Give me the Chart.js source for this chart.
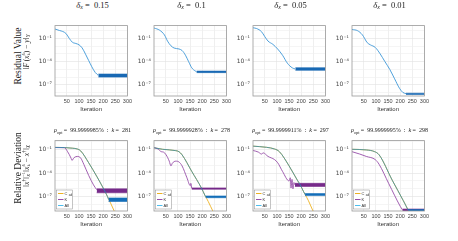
<!DOCTYPE html>
<html>
<head>
<meta charset="utf-8">
<script src="https://cdn.jsdelivr.net/npm/chart.js@4.4.1/dist/chart.umd.min.js"></script>
<style>
  body { margin: 0; background: #fff; width: 458px; height: 241px; position: relative; overflow: hidden;
         font-family: 'Liberation Serif', 'DejaVu Serif', serif; color: #222; }
  canvas { position: absolute; }
  .t { position: absolute; white-space: nowrap; transform: translate(-50%, -50%); line-height: 1; }
  .rot { position: absolute; white-space: nowrap; transform: translate(-50%, -50%) rotate(-90deg); line-height: 1; }
  .sb { font-size: 0.7em; vertical-align: -0.3em; }
  .sp { font-size: 0.7em; vertical-align: 0.45em; }
  .ss { display: inline-block; vertical-align: middle; font-size: 0.6em; line-height: 1; text-align: left; }
  .ss span { display: block; }
</style>
</head>
<body>
<script>
// ---- data (values are log10 of the plotted quantity) ----
const iterTicks = [50, 100, 150, 200, 250, 300];
const labelExps = [-1, -4, -7];
const topRange = [-8.44, 0.66];
const botRange = [-8.8, 0.1];

const deltaLabels = ['0.15', '0.1', '0.05', '0.01'];
const rhoOpt = ['99.9999985', '99.9999928', '99.9999911', '99.9999995'];
const kOpt = [281, 278, 297, 298];

// residual ||F(x_k) - y||, [iteration, log10]
const res015 = [[1, 0.22], [20, 0.02], [33, -0.1], [47, -0.38], [60, -1.0], [73, -1.5], [87, -1.65], [100, -1.82],
  [113, -2.22], [127, -3.03], [140, -3.85], [153, -4.66], [167, -5.39], [180, -5.78]];
const res01 = [[1, 0.35], [24, 0.07], [44, -0.54], [57, -1.35], [71, -1.95], [84, -2.24], [104, -2.36], [117, -2.56],
  [131, -3.17], [144, -4.0], [157, -4.8], [171, -5.2], [177, -5.3]];
const res005 = [[1, 0.38], [16, 0.28], [36, -0.12], [49, -0.73], [63, -1.34], [83, -1.76], [103, -2.37], [123, -3.17],
  [143, -4.2], [163, -4.8], [176, -4.95]];
const res001 = [[1, 0.16], [24, 0.0], [44, -0.54], [64, -1.55], [77, -1.83], [97, -2.16], [117, -2.98], [137, -4.0],
  [157, -5.0], [177, -6.22], [197, -7.44], [211, -7.98], [224, -8.14]];
// oscillation band once stagnated: [from, to, low, high]
const resBand = [[180, 300, -6.0, -5.6], [177, 300, -5.42, -5.22], [176, 300, -5.12, -4.78], [224, 300, -8.25, -8.08]];

// relative deviation, C_ad
const cad015 = [[1, -0.76], [40, -0.78], [73, -0.86], [93, -0.96], [107, -1.2], [140, -2.7], [173, -4.4], [200, -5.9],
  [218, -7.0], [232, -7.9], [250, -9.1]];
const cad01 = [[1, -0.8], [37, -1.0], [91, -1.17], [104, -1.3], [117, -1.7], [157, -3.8], [197, -5.9], [211, -6.8],
  [225, -7.6], [244, -8.8], [250, -9.1]];
const cad005 = [[1, -0.6], [57, -0.75], [90, -0.96], [110, -1.3], [150, -3.1], [184, -4.9], [196, -5.5], [209, -6.3],
  [216, -6.7], [230, -7.5], [249, -8.8], [255, -9.1]];
const cad001 = [[1, -1.0], [60, -1.08], [93, -1.28], [113, -1.7], [167, -4.9], [213, -7.5], [233, -8.7], [240, -9.2]];

// relative deviation, K
const k015 = [[1, -0.78], [40, -0.8], [53, -1.3], [67, -2.1], [71, -2.4], [80, -2.05], [93, -1.9], [107, -2.1],
  [120, -2.9], [140, -4.3], [160, -5.5], [173, -6.1]];
const k01 = [[1, -0.8], [17, -0.95], [31, -1.3], [40, -1.35], [51, -1.7], [64, -2.5], [71, -3.1], [77, -2.75],
  [91, -2.5], [104, -2.6], [117, -3.1], [137, -4.6], [151, -5.6], [153, -5.3], [157, -5.95]];
const k005 = [[1, -1.15], [23, -1.35], [36, -1.6], [43, -1.45], [63, -1.9], [90, -2.3], [103, -2.7], [123, -3.8],
  [150, -5.0], [155, -4.6], [158, -5.9], [162, -4.8], [166, -6.0], [170, -5.2], [174, -5.5]];
const k001 = [[1, -1.3], [33, -1.6], [60, -1.9], [97, -2.3], [113, -2.9], [153, -5.35], [200, -8.2], [209, -8.65]];

// relative deviation, All
const all015 = [[1, -0.76], [40, -0.78], [73, -0.86], [93, -0.96], [107, -1.2], [140, -2.7], [173, -4.4], [200, -5.9],
  [218, -7.0], [222, -7.35]];
const all01 = [[1, -0.8], [37, -1.0], [91, -1.17], [104, -1.3], [117, -1.7], [157, -3.8], [197, -5.9], [211, -6.8],
  [214, -7.0]];
const all005 = [[1, -0.6], [57, -0.75], [90, -0.96], [110, -1.3], [150, -3.1], [184, -4.9], [196, -5.5], [209, -6.3],
  [216, -6.72]];
const all001 = [[1, -1.0], [60, -1.08], [93, -1.28], [113, -1.7], [167, -4.9], [213, -7.5], [233, -8.7]];

const kBand = [[173, 300, -6.5, -6.0], [157, 300, -6.05, -5.88], [174, 300, -5.7, -5.3], [209, 300, -8.8, -8.55]];
const allBand = [[222, 300, -7.6, -7.15], [214, 300, -7.12, -6.9], [216, 300, -6.85, -6.6], [233, 300, -8.8, -8.62]];

const resSeries = [res015, res01, res005, res001];
const cadSeries = [cad015, cad01, cad005, cad001];
const kSeries = [k015, k01, k005, k001];
const allSeries = [all015, all01, all005, all001];

// ---- layout ----
const colLeft = [55, 154, 253, 352];
const rowTop = [22, 137];
const PW = 75, PH = 74, YW = 26, XH = 17, PADT = 3, PADR = 4;

const toXY = (pts) => pts.map(([x, e]) => ({ x, y: 10 ** e }));
const supMap = { '-': '⁻', '1': '¹', '4': '⁴', '7': '⁷' };
const sup = (e) => String(e).split('').map(c => supMap[c]).join('');

function lineDs(pts, color, order, key, keyColor) {
  return { data: toXY(pts), borderColor: color, borderWidth: 0.9, fill: false, order, key, keyColor };
}
function bandDs(b, color, order) {
  const [from, to, lo, hi] = b;
  return [
    { data: [{ x: from, y: 10 ** hi }, { x: to, y: 10 ** hi }], borderColor: color, borderWidth: 0.6, fill: false, order },
    { data: [{ x: from, y: 10 ** lo }, { x: to, y: 10 ** lo }], borderColor: color, borderWidth: 0.6,
      fill: '-1', backgroundColor: color, order },
  ];
}

const boxPlugin = {
  id: 'box',
  afterDraw(c) {
    const { ctx, chartArea: a } = c;
    ctx.save();
    ctx.strokeStyle = '#9a9a9a';
    ctx.lineWidth = 0.8;
    ctx.strokeRect(a.left, a.top, a.right - a.left, a.bottom - a.top);
    ctx.restore();
  }
};

const keyPlugin = {
  id: 'key',
  afterDraw(c) {
    const items = c.data.datasets.filter(d => d.key);
    if (!items.length) return;
    const { ctx, chartArea: a } = c;
    const x = a.left + 1.5, y = a.bottom - 21, w = 16, h = 19;
    ctx.save();
    ctx.fillStyle = '#fff';
    ctx.fillRect(x, y, w, h);
    ctx.strokeStyle = '#8a8a8a';
    ctx.lineWidth = 0.5;
    ctx.strokeRect(x, y, w, h);
    items.forEach((d, i) => {
      const ly = y + 3.5 + i * 6;
      ctx.strokeStyle = d.keyColor;
      ctx.lineWidth = 1;
      ctx.beginPath();
      ctx.moveTo(x + 1.5, ly);
      ctx.lineTo(x + 7, ly);
      ctx.stroke();
      ctx.fillStyle = '#333';
      ctx.textBaseline = 'middle';
      ctx.font = '4px "Liberation Sans"';
      const [main, sub] = d.key.split('_');
      ctx.fillText(main, x + 8, ly);
      if (sub) {
        ctx.font = '3px "Liberation Sans"';
        ctx.fillText(sub, x + 8 + ctx.measureText(main).width + 2.2, ly + 1.2);
      }
    });
    ctx.restore();
  }
};

function makeChart(left, top, datasets, range) {
  const cv = document.createElement('canvas');
  cv.width = YW + PW + PADR;
  cv.height = PADT + PH + XH;
  cv.style.left = (left - YW) + 'px';
  cv.style.top = (top - PADT) + 'px';
  document.body.appendChild(cv);
  const isLabel = (v) => labelExps.includes(Math.round(Math.log10(v)));
  return new Chart(cv, {
    type: 'line',
    data: { datasets },
    options: {
      responsive: false,
      animation: false,
      devicePixelRatio: 1,
      layout: { padding: { top: PADT, right: PADR, left: 0, bottom: 0 } },
      plugins: { legend: { display: false }, tooltip: { enabled: false } },
      elements: { point: { radius: 0 }, line: { cubicInterpolationMode: 'monotone' } },
      scales: {
        x: {
          type: 'linear', min: 1, max: 300,
          afterBuildTicks: (s) => { s.ticks = iterTicks.map(v => ({ value: v })); },
          afterFit: (s) => { s.height = XH; },
          grid: { color: '#e4e4e4', lineWidth: 0.6, drawTicks: false },
          border: { display: false },
          ticks: { font: { size: 5.5, family: 'Liberation Sans' }, color: '#444', padding: 2, maxRotation: 0 },
          title: { display: true, text: 'Iteration', font: { size: 6, family: 'Liberation Sans' }, color: '#333',
                   padding: { top: 0, bottom: 0 } }
        },
        y: {
          type: 'logarithmic', min: 10 ** range[0], max: 10 ** range[1],
          afterBuildTicks: (s) => {
            const t = [];
            for (let e = Math.ceil(range[0]); e <= Math.floor(range[1]); e++) t.push({ value: 10 ** e });
            s.ticks = t;
          },
          afterFit: (s) => { s.width = YW; },
          grid: { color: (ctx) => isLabel(ctx.tick.value) ? '#e0e0e0' : '#efefef', lineWidth: 0.6, drawTicks: false },
          border: { display: false },
          ticks: {
            font: { size: 6, family: 'DejaVu Sans' }, color: '#444', padding: 3, autoSkip: false,
            callback: (v) => isLabel(v) ? '10' + sup(Math.round(Math.log10(v))) : ''
          }
        }
      }
    },
    plugins: [boxPlugin, keyPlugin]
  });
}

function addText(html, x, y, size, cls) {
  const d = document.createElement('div');
  d.className = cls || 't';
  d.style.left = x + 'px';
  d.style.top = y + 'px';
  d.style.fontSize = size + 'px';
  d.innerHTML = html;
  document.body.appendChild(d);
}

const TOP_LINE = 'rgb(60,150,215)', TOP_BAND = 'rgb(25,105,180)';
const ORANGE = 'rgb(237,177,32)';
const PURPLE = 'rgb(150,78,168)', PURPLE_BAND = 'rgb(118,42,138)';
const ALL = 'rgba(40,140,185,0.85)', ALL_KEY = 'rgb(77,190,238)', ALL_BAND = 'rgb(20,110,185)';

for (let i = 0; i < 4; i++) {
  const cx = colLeft[i] + PW / 2;

  // residual value row
  makeChart(colLeft[i], rowTop[0], [
    lineDs(resSeries[i], TOP_LINE, 2),
    ...bandDs(resBand[i], TOP_BAND, 1)
  ], topRange);
  addText('<i>δ</i><span class="sb"><i>x</i></span> = &nbsp;' + deltaLabels[i], cx, 6, 8.5);

  // relative deviation row
  makeChart(colLeft[i], rowTop[1], [
    lineDs(cadSeries[i], ORANGE, 5, 'C_ad', ORANGE),
    lineDs(kSeries[i], PURPLE, 4, 'K', PURPLE),
    ...bandDs(kBand[i], PURPLE_BAND, 4),
    lineDs(allSeries[i], ALL, 2, 'All', ALL_KEY),
    ...bandDs(allBand[i], ALL_BAND, 1)
  ], botRange);
  addText('<i>ρ</i><span class="sb">opt</span> = &nbsp;' + rhoOpt[i] + '% &nbsp;: &nbsp;<i>k</i> = &nbsp;' + kOpt[i],
          cx, 131, 6);
}

addText('Residual Value', 18.5, 56, 9.5, 'rot');
addText('‖<i>F</i>&thinsp;(<i>x</i><span class="ss"><span>δ</span><span>k</span></span>) − <i>y</i>‖<span class="sb"><i>Y</i></span>',
        26.5, 52, 7.5, 'rot');
addText('Relative Deviation', 18.5, 168, 9.5, 'rot');
addText('‖<i>x</i><span class="sp">†</span>‖<span class="ss"><span>−1</span><span><i>X</i></span></span>‖<i>x</i><span class="ss"><span>δ</span><span>k</span></span> − <i>x</i><span class="sp">†</span>‖<span class="sb"><i>X</i></span>',
        26.5, 166, 7.5, 'rot');
</script>
</body>
</html>
